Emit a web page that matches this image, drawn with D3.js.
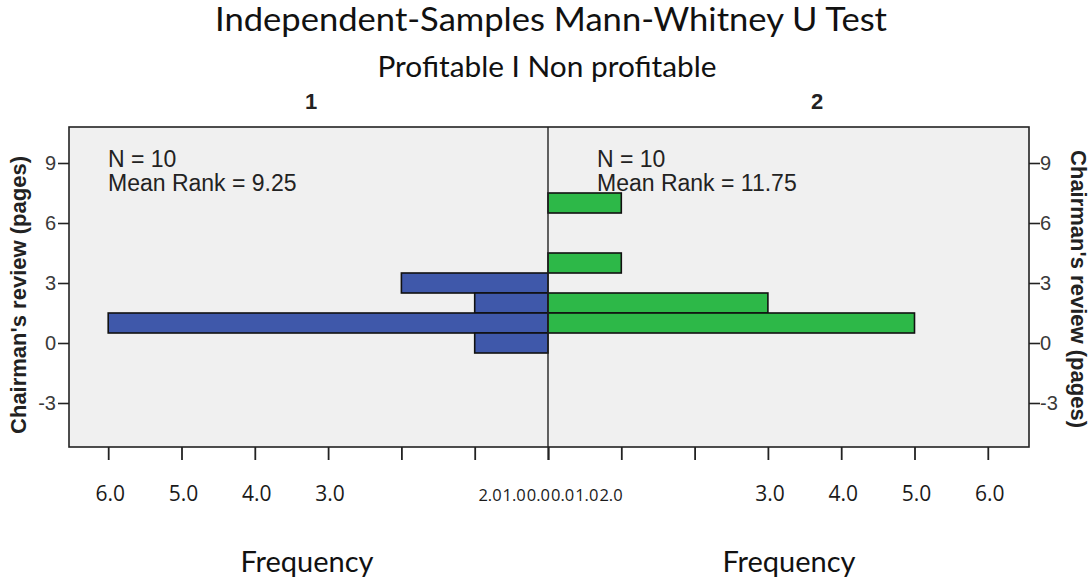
<!DOCTYPE html>
<html lang="en">
<head>
    <meta charset="UTF-8">
    <title>Independent-Samples Mann-Whitney U Test</title>
    <script src="https://d3js.org/d3.v7.min.js"></script>
    <style>
        body { margin: 0; background: #fff; }
        svg { display: block; }
        .title { font-family: Lato, "Open Sans", sans-serif; fill: #111; }
        .tick-y { font-family: "Liberation Sans", Arial, sans-serif; font-size: 20px; fill: #3a3a3a; }
        .tick-x { font-family: "Open Sans", sans-serif; font-size: 21px; fill: #1a1a1a; }
        .tick-x.inner { font-size: 16.5px; }
        .stat { font-family: "Liberation Sans", Arial, sans-serif; font-size: 23px; fill: #222; }
        .ylab { font-family: "Liberation Sans", Arial, sans-serif; font-size: 22px; font-weight: bold; fill: #222; }
        .group { font-family: "Liberation Sans", Arial, sans-serif; font-size: 22px; font-weight: bold; fill: #222; }
    </style>
</head>
<body>
<svg width="1091" height="581"></svg>
<script>
    // data
    const groupNames = ["1", "2"];
    const group1Pages = [3, 2, 1, 0];
    const group1Freq = [2, 1, 6, 1];
    const group2Pages = [7, 4, 2, 1];
    const group2Freq = [1, 1, 3, 5];
    const groupN = [10, 10];
    const meanRanks = ["9.25", "11.75"];
    const yTicks = [-3, 0, 3, 6, 9];
    const freqTicks = [0, 1, 2, 3, 4, 5, 6];

    const svg = d3.select("svg");
    const frame = {left: 69, right: 1029, top: 127, bottom: 447};
    const mid = 548, unit = 73.3;

    const xLeft = d3.scaleLinear().domain([0, 6]).range([mid, mid - 6 * unit]);
    const xRight = d3.scaleLinear().domain([0, 6]).range([mid, mid + 6 * unit]);
    const y = d3.scaleLinear().domain([-5.2, 10.8]).range([frame.bottom, frame.top]);

    // titles
    svg.append("text").attr("class", "title").attr("x", 551).attr("y", 31)
        .attr("text-anchor", "middle").style("font-size", "32px")
        .attr("textLength", 672).attr("lengthAdjust", "spacingAndGlyphs")
        .text("Independent-Samples Mann-Whitney U Test");
    svg.append("text").attr("class", "title").attr("x", 547).attr("y", 77)
        .attr("text-anchor", "middle").style("font-size", "28px")
        .attr("textLength", 339).attr("lengthAdjust", "spacingAndGlyphs")
        .text("Profitable I Non profitable");
    svg.append("text").attr("class", "group").attr("x", 311).attr("y", 109)
        .attr("text-anchor", "middle").text(groupNames[0]);
    svg.append("text").attr("class", "group").attr("x", 817).attr("y", 109)
        .attr("text-anchor", "middle").text(groupNames[1]);

    // plot background
    svg.append("rect")
        .attr("x", frame.left).attr("y", frame.top)
        .attr("width", frame.right - frame.left).attr("height", frame.bottom - frame.top)
        .attr("fill", "#f0f0f0");

    // bars
    const bars1 = group1Pages.map((p, i) => ({p, f: group1Freq[i]}));
    const bars2 = group2Pages.map((p, i) => ({p, f: group2Freq[i]}));

    svg.selectAll(".bar1").data(bars1).enter().append("rect")
        .attr("class", "bar1")
        .attr("x", d => xLeft(d.f)).attr("width", d => mid - xLeft(d.f))
        .attr("y", d => y(d.p + 0.5)).attr("height", d => y(d.p - 0.5) - y(d.p + 0.5))
        .attr("fill", "#3f58aa").attr("stroke", "#111").attr("stroke-width", 1.6);

    svg.selectAll(".bar2").data(bars2).enter().append("rect")
        .attr("class", "bar2")
        .attr("x", mid).attr("width", d => xRight(d.f) - mid)
        .attr("y", d => y(d.p + 0.5)).attr("height", d => y(d.p - 0.5) - y(d.p + 0.5))
        .attr("fill", "#2db848").attr("stroke", "#111").attr("stroke-width", 1.6);

    // frame + center divider
    svg.append("rect")
        .attr("x", frame.left).attr("y", frame.top)
        .attr("width", frame.right - frame.left).attr("height", frame.bottom - frame.top)
        .attr("fill", "none").attr("stroke", "#222").attr("stroke-width", 1.6);
    svg.append("line").attr("x1", mid).attr("x2", mid)
        .attr("y1", frame.top).attr("y2", frame.bottom)
        .attr("stroke", "#222").attr("stroke-width", 1.4);

    // y axes, both sides
    const yl = svg.append("g").attr("transform", `translate(${frame.left},0)`)
        .call(d3.axisLeft(y).tickValues(yTicks).tickFormat(d => String(d)).tickSize(11).tickPadding(2));
    const yr = svg.append("g").attr("transform", `translate(${frame.right},0)`)
        .call(d3.axisRight(y).tickValues(yTicks).tickFormat(d => String(d)).tickSize(11).tickPadding(0));
    [yl, yr].forEach(g => {
        g.select(".domain").remove();
        g.selectAll("line").attr("stroke", "#222").attr("stroke-width", 1.6);
        g.selectAll("text").attr("class", "tick-y").attr("font-family", null).attr("font-size", null);
    });

    // x ticks
    function xTicks(scale) {
        const g = svg.append("g").attr("transform", `translate(0,${frame.bottom})`)
            .call(d3.axisBottom(scale).tickValues(freqTicks).tickSize(13).tickFormat(""));
        g.select(".domain").remove();
        g.selectAll("line").attr("stroke", "#222").attr("stroke-width", 1.8);
    }
    xTicks(xLeft);
    xTicks(xRight);

    // x labels: the small values are squeezed together next to the divider
    const pitch = 24.2;
    function labelX(v, side) {
        if (v <= 2) return mid + 2.5 + side * (pitch / 2 + v * pitch);
        return (side < 0 ? xLeft(v) : xRight(v)) + 2;
    }
    [-1, 1].forEach(side => {
        svg.append("g").selectAll("text").data(freqTicks).enter().append("text")
            .attr("class", d => d <= 2 ? "tick-x inner" : "tick-x")
            .attr("x", d => labelX(d, side)).attr("y", 501)
            .attr("text-anchor", "middle")
            .text(d => d3.format(".1f")(d));
    });

    // stats text
    [[108, 0], [597, 1]].forEach(([x0, i]) => {
        svg.append("text").attr("class", "stat").attr("x", x0).attr("y", 167).text(`N = ${groupN[i]}`);
        svg.append("text").attr("class", "stat").attr("x", x0).attr("y", 191).text(`Mean Rank = ${meanRanks[i]}`);
    });

    // y axis titles
    svg.append("text").attr("class", "ylab")
        .attr("transform", `translate(26,${(frame.top + frame.bottom) / 2 + 8}) rotate(-90)`)
        .attr("text-anchor", "middle").text("Chairman's review (pages)");
    svg.append("text").attr("class", "ylab")
        .attr("transform", `translate(1071,${(frame.top + frame.bottom) / 2 + 2}) rotate(90)`)
        .attr("text-anchor", "middle").text("Chairman's review (pages)");

    // x titles
    ["left", "right"].forEach((s, i) => {
        svg.append("text").attr("class", "title")
            .attr("x", i ? 789 : 307).attr("y", 572)
            .attr("text-anchor", "middle").style("font-size", "29px")
            .text("Frequency");
    });
</script>
</body>
</html>
